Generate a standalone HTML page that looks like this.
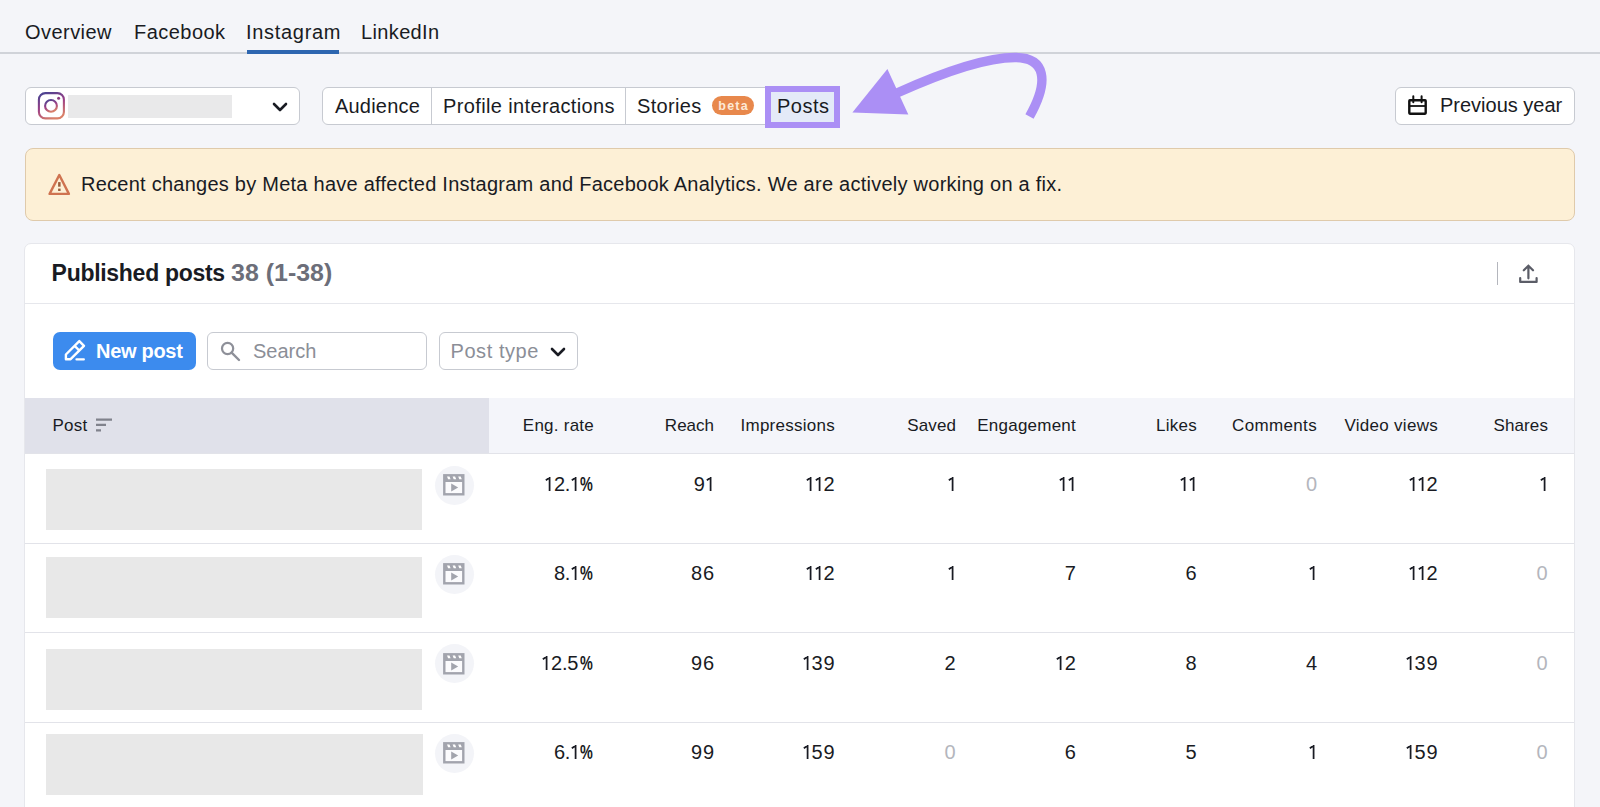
<!DOCTYPE html>
<html><head><meta charset="utf-8"><style>
*{box-sizing:border-box;margin:0;padding:0}
html,body{width:1600px;height:807px;overflow:hidden;background:#f4f5f9}
body{position:relative;font-family:"Liberation Sans",sans-serif;color:#191b23}
.a{position:absolute}
.t{position:absolute;white-space:nowrap}
.f20{font-size:20px;line-height:20px}
.f17{font-size:17px;line-height:17px}
.f19{font-size:19px;line-height:19px}
.n{position:absolute;white-space:nowrap;font-size:20px;line-height:20px;text-align:right;width:80px}
.n b{font-weight:normal}
.d{display:inline-block;width:12px;text-align:center}
.p{display:inline-block;width:4.2px;text-indent:-.6px;overflow:visible}
.pc{display:inline-block;width:15.5px;text-align:left}
.pc b{display:inline-block;transform:scaleX(.72);transform-origin:0 0;margin-left:1.5px;font-weight:bold}
.o{display:inline-block;vertical-align:baseline}
.sr{position:absolute;width:1px;height:1px;overflow:hidden;clip:rect(0 0 0 0);white-space:nowrap}
.o path{fill:none;stroke:currentColor;stroke-width:1.75}
.g{color:#b4b6bd}
.box{position:absolute;background:#fff;border:1px solid #c7cad1;border-radius:6px}
.sep{position:absolute;left:25.3px;width:1549px;height:1px;background:#e2e3e9}
.ph{position:absolute;background:#e8e8e8}
.vi{position:absolute;width:39px;height:39px;border-radius:50%;background:#f3f4f8}
</style></head><body>
<svg width="0" height="0" style="position:absolute"><defs>
<symbol id="clap" viewBox="0 0 22 22">
<rect x="1.3" y="1.3" width="19" height="19" fill="#fbfbfd" stroke="#a2a4ad" stroke-width="2.4"/>
<rect x="1" y="1" width="20" height="7" fill="#a2a4ad"/>
<path d="M4 2.6 H6.5 L7.6 5.2 H5.1 Z M9.6 2.6 H12.1 L13.2 5.2 H10.7 Z M15.2 2.6 H17.7 L18.8 5.2 H16.3 Z" fill="#fff"/>
<path d="M8.2 9.4 V17.6 L15.2 13.5 Z" fill="#a2a4ad"/>
</symbol></defs></svg>

<!-- top tabs -->
<div class="a" style="left:0;top:52px;width:1600px;height:2px;background:#d0d3d9"></div>
<div class="t f20" style="left:25px;top:22px;letter-spacing:.45px">Overview</div>
<div class="t f20" style="left:134px;top:22px;letter-spacing:.47px">Facebook</div>
<div class="t f20" style="left:246px;top:22px;letter-spacing:.7px">Instagram</div>
<div class="t f20" style="left:361px;top:22px;letter-spacing:.36px">LinkedIn</div>
<div class="a" style="left:247px;top:50px;width:92px;height:4px;background:#2d66b0"></div>

<!-- account select -->
<div class="box" style="left:25px;top:87px;width:275px;height:38px"></div>
<svg class="a" style="left:37px;top:92px" width="28" height="28" viewBox="0 0 28 28">
<defs><linearGradient id="ig" x1=".2" y1="0" x2=".6" y2="1"><stop offset="0" stop-color="#4d4391"/><stop offset=".5" stop-color="#9c3f86"/><stop offset="1" stop-color="#da8068"/></linearGradient></defs>
<rect x="1.9" y="1.1" width="25" height="25.3" rx="6.5" fill="none" stroke="url(#ig)" stroke-width="2.1"/>
<circle cx="14" cy="13.9" r="5.9" fill="none" stroke="url(#ig)" stroke-width="2.1"/>
<circle cx="21.6" cy="6.3" r="1.5" fill="#8a3a80"/>
</svg>
<div class="ph" style="left:68px;top:95px;width:164px;height:23px;background:#e9e9ea"></div>
<svg class="a" style="left:271px;top:101px" width="18" height="12" viewBox="0 0 18 12"><path d="M3 3 L9 9 L15 3" fill="none" stroke="#191b23" stroke-width="2.6" stroke-linecap="round" stroke-linejoin="round"/></svg>

<!-- segmented buttons -->
<div class="box" style="left:322px;top:87px;width:480px;height:38px"></div>
<div class="a" style="left:431px;top:88px;width:1px;height:36px;background:#c7cad1"></div>
<div class="a" style="left:625px;top:88px;width:1px;height:36px;background:#c7cad1"></div>
<div class="t f20" style="left:335px;top:96px;letter-spacing:.2px">Audience</div>
<div class="t f20" style="left:443px;top:96px;letter-spacing:.37px">Profile interactions</div>
<div class="t f20" style="left:637px;top:96px;letter-spacing:.33px">Stories</div>
<div class="a" style="left:712px;top:96px;width:42px;height:19px;border-radius:10px;background:#e8884c;color:#fde9d6;font-size:12.5px;line-height:19px;padding-top:1px;padding-left:1.2px;font-weight:bold;text-align:center;letter-spacing:1.2px">beta</div>
<div class="a" style="left:765px;top:86px;width:75px;height:42px;border:6.5px solid #ab8ff5;background:#e4eaf8"></div>
<div class="t f20" style="left:777px;top:96px;letter-spacing:.5px">Posts</div>

<!-- arrow -->
<svg class="a" style="left:0;top:0" width="1600" height="140" viewBox="0 0 1600 140">
<path d="M897 93 C 937 75, 985 57.5, 1015 57.5 C 1045 57.5, 1050 80, 1029.5 116.5" fill="none" stroke="#ab8ff5" stroke-width="9.4"/>
<path d="M852.4 112.6 L887.4 69 L908.3 114.4 Z" fill="#ab8ff5"/>
</svg>

<!-- previous year -->
<div class="box" style="left:1395px;top:87px;width:180px;height:38px"></div>
<svg class="a" style="left:1407px;top:94px" width="22" height="22" viewBox="0 0 22 22">
<rect x="2.3" y="6.3" width="16.4" height="13.4" rx=".6" fill="none" stroke="#111" stroke-width="2.4"/>
<path d="M2.1 12 H18.9" stroke="#111" stroke-width="1.8"/>
<path d="M6.3 2.3 V8.3 M14.6 2.3 V8.3" stroke="#111" stroke-width="2" stroke-linecap="round"/>
</svg>
<div class="t f20" style="left:1440px;top:95px">Previous year</div>

<!-- banner -->
<div class="a" style="left:25px;top:147.6px;width:1550px;height:73.8px;background:#fdf0d6;border:1px solid #dfcaab;border-radius:8px"></div>
<svg class="a" style="left:47px;top:172px" width="24" height="24" viewBox="0 0 24 24">
<path d="M12.3 3 L21.9 21.9 L2.6 21.9 Z" fill="none" stroke="#cf7350" stroke-width="2.4" stroke-linejoin="round"/>
<rect x="11.1" y="10.1" width="2.5" height="4.6" fill="#9a5e3c"/>
<rect x="11.1" y="16.6" width="2.5" height="2.4" fill="#9a5e3c"/>
</svg>
<div class="t f20" style="left:81px;top:174px;letter-spacing:.25px">Recent changes by Meta have affected Instagram and Facebook Analytics. We are actively working on a fix.</div>

<!-- card -->
<div class="a" style="left:24.3px;top:243.3px;width:1550.9px;height:600px;background:#fff;border:1px solid #e6e7ec;border-radius:7px"></div>
<div class="t" style="left:51.6px;top:261.6px;font-size:23px;line-height:23px;font-weight:bold;letter-spacing:-.29px">Published posts</div>
<div class="t" style="left:230.9px;top:261.6px;font-size:23px;line-height:23px;font-weight:bold;color:#6c6e79;transform:scaleX(1.085);transform-origin:0 0">38 (1-38)</div>
<div class="a" style="left:1497px;top:262px;width:1px;height:23px;background:#b4b6bd"></div>
<svg class="a" style="left:1516px;top:262px" width="24" height="24" viewBox="0 0 24 24">
<path d="M12.4 4 V16.3 M7.8 8.3 L12.4 3.7 L17 8.3" fill="none" stroke="#5b5d67" stroke-width="2.2" stroke-linecap="round"/>
<path d="M4.2 16 V19.9 H20.6 V16" fill="none" stroke="#5b5d67" stroke-width="2.2" stroke-linecap="round" stroke-linejoin="round"/>
</svg>
<div class="sep" style="top:303px;background:#e6e7ec"></div>

<!-- toolbar -->
<div class="a" style="left:53px;top:332px;width:143px;height:38px;background:#3c8bee;border-radius:7px"></div>
<svg class="a" style="left:63px;top:339px" width="24" height="24" viewBox="0 0 24 24">
<path d="M2.9 15.5 L16.3 2.1 L21 6.8 L7.6 20.2 H2.9 Z M11.6 6.8 L16.3 11.5" fill="none" stroke="#fff" stroke-width="2.4" stroke-linejoin="round"/>
<path d="M13.5 20.4 H20.8" stroke="#fff" stroke-width="2.3" stroke-linecap="round"/>
</svg>
<div class="t f20" style="left:96px;top:341px;color:#fff;font-weight:bold;letter-spacing:-.3px">New post</div>
<div class="box" style="left:207px;top:332px;width:220px;height:38px"></div>
<svg class="a" style="left:219px;top:340px" width="24" height="24" viewBox="0 0 24 24">
<circle cx="8.6" cy="8.5" r="5.6" fill="none" stroke="#8e9099" stroke-width="2.2"/>
<path d="M12.6 12.6 L20 20" stroke="#8e9099" stroke-width="2.4" stroke-linecap="round"/>
</svg>
<div class="t f20" style="left:253px;top:341px;color:#8b8e97">Search</div>
<div class="box" style="left:439px;top:332px;width:139px;height:38px"></div>
<div class="t f20" style="left:450.5px;top:341px;color:#8b8e97;letter-spacing:.57px">Post type</div>
<svg class="a" style="left:549px;top:346px" width="18" height="12" viewBox="0 0 18 12"><path d="M3 3 L9 9 L15 3" fill="none" stroke="#191b23" stroke-width="2.6" stroke-linecap="round" stroke-linejoin="round"/></svg>

<!-- table header -->
<div class="a" style="left:24.8px;top:398px;width:464.5px;height:55px;background:#e0e1ea"></div>
<div class="a" style="left:489.3px;top:398px;width:1085px;height:55px;background:#f4f5fa"></div>
<div class="sep" style="top:453px"></div>
<div class="t f17" style="left:52.5px;top:416.5px;letter-spacing:.2px">Post</div>
<svg class="a" style="left:95px;top:416.5px" width="18" height="16" viewBox="0 0 18 16">
<path d="M1 2.6 H17 M1 7.8 H11 M1 13.3 H6" stroke="#80828c" stroke-width="2.2"/>
</svg>
<div class="t f17" style="right:1006px;top:416.5px;letter-spacing:0.24px">Eng. rate</div>
<div class="t f17" style="right:886px;top:416.5px">Reach</div>
<div class="t f17" style="right:765px;top:416.5px;letter-spacing:0.26px">Impressions</div>
<div class="t f17" style="right:643.8px;top:416.5px;letter-spacing:0.17px">Saved</div>
<div class="t f17" style="right:524px;top:416.5px;letter-spacing:0.23px">Engagement</div>
<div class="t f17" style="right:403px;top:416.5px;letter-spacing:0.27px">Likes</div>
<div class="t f17" style="right:283px;top:416.5px;letter-spacing:0.34px">Comments</div>
<div class="t f17" style="right:162px;top:416.5px;letter-spacing:0.29px">Video views</div>
<div class="t f17" style="right:52px;top:416.5px;letter-spacing:0.1px">Shares</div>

<!-- rows -->
<div class="sep" style="top:543px"></div>
<div class="sep" style="top:632px"></div>
<div class="sep" style="top:722px"></div>

<div class="ph" style="left:46px;top:469px;width:376px;height:61px"></div>
<div class="ph" style="left:46px;top:557px;width:376px;height:61px"></div>
<div class="ph" style="left:46px;top:649px;width:376px;height:61px"></div>
<div class="ph" style="left:46px;top:734px;width:377px;height:61px"></div>

<!--ROWS-->
<div class="vi" style="left:434.7px;top:465.5px"></div>
<svg class="a" style="left:443.3px;top:474.0px" width="22" height="22" viewBox="0 0 22 22"><use href="#clap"/></svg>
<div class="n" style="right:1005.70px;top:473.87px"><span class="sr">1</span><svg class="o" width="9.2" height="15" viewBox="0 0 9.2 15"><path d="M1.8 4.3 L5.6 1.8 M5.6 1 V15"/></svg><b class="d">2</b><b class="p">.</b><span class="sr">1</span><svg class="o" width="9.2" height="15" viewBox="0 0 9.2 15"><path d="M1.8 4.3 L5.6 1.8 M5.6 1 V15"/></svg><b class="pc"><b>%</b></b></div>
<div class="n" style="right:885.40px;top:473.87px"><b class="d">9</b><span class="sr">1</span><svg class="o" width="9.2" height="15" viewBox="0 0 9.2 15"><path d="M1.8 4.3 L5.6 1.8 M5.6 1 V15"/></svg></div>
<div class="n" style="right:765.00px;top:473.87px"><span class="sr">1</span><svg class="o" width="9.2" height="15" viewBox="0 0 9.2 15"><path d="M1.8 4.3 L5.6 1.8 M5.6 1 V15"/></svg><span class="sr">1</span><svg class="o" width="9.2" height="15" viewBox="0 0 9.2 15"><path d="M1.8 4.3 L5.6 1.8 M5.6 1 V15"/></svg><b class="d">2</b></div>
<div class="n" style="right:644.00px;top:473.87px"><span class="sr">1</span><svg class="o" width="9.2" height="15" viewBox="0 0 9.2 15"><path d="M1.8 4.3 L5.6 1.8 M5.6 1 V15"/></svg></div>
<div class="n" style="right:523.70px;top:473.87px"><span class="sr">1</span><svg class="o" width="9.2" height="15" viewBox="0 0 9.2 15"><path d="M1.8 4.3 L5.6 1.8 M5.6 1 V15"/></svg><span class="sr">1</span><svg class="o" width="9.2" height="15" viewBox="0 0 9.2 15"><path d="M1.8 4.3 L5.6 1.8 M5.6 1 V15"/></svg></div>
<div class="n" style="right:403.00px;top:473.87px"><span class="sr">1</span><svg class="o" width="9.2" height="15" viewBox="0 0 9.2 15"><path d="M1.8 4.3 L5.6 1.8 M5.6 1 V15"/></svg><span class="sr">1</span><svg class="o" width="9.2" height="15" viewBox="0 0 9.2 15"><path d="M1.8 4.3 L5.6 1.8 M5.6 1 V15"/></svg></div>
<div class="n g" style="right:282.40px;top:473.87px"><b class="d">0</b></div>
<div class="n" style="right:161.90px;top:473.87px"><span class="sr">1</span><svg class="o" width="9.2" height="15" viewBox="0 0 9.2 15"><path d="M1.8 4.3 L5.6 1.8 M5.6 1 V15"/></svg><span class="sr">1</span><svg class="o" width="9.2" height="15" viewBox="0 0 9.2 15"><path d="M1.8 4.3 L5.6 1.8 M5.6 1 V15"/></svg><b class="d">2</b></div>
<div class="n" style="right:51.90px;top:473.87px"><span class="sr">1</span><svg class="o" width="9.2" height="15" viewBox="0 0 9.2 15"><path d="M1.8 4.3 L5.6 1.8 M5.6 1 V15"/></svg></div>
<div class="vi" style="left:434.7px;top:554.5px"></div>
<svg class="a" style="left:443.3px;top:563.0px" width="22" height="22" viewBox="0 0 22 22"><use href="#clap"/></svg>
<div class="n" style="right:1005.70px;top:562.97px"><b class="d">8</b><b class="p">.</b><span class="sr">1</span><svg class="o" width="9.2" height="15" viewBox="0 0 9.2 15"><path d="M1.8 4.3 L5.6 1.8 M5.6 1 V15"/></svg><b class="pc"><b>%</b></b></div>
<div class="n" style="right:885.40px;top:562.97px"><b class="d">8</b><b class="d">6</b></div>
<div class="n" style="right:765.00px;top:562.97px"><span class="sr">1</span><svg class="o" width="9.2" height="15" viewBox="0 0 9.2 15"><path d="M1.8 4.3 L5.6 1.8 M5.6 1 V15"/></svg><span class="sr">1</span><svg class="o" width="9.2" height="15" viewBox="0 0 9.2 15"><path d="M1.8 4.3 L5.6 1.8 M5.6 1 V15"/></svg><b class="d">2</b></div>
<div class="n" style="right:644.00px;top:562.97px"><span class="sr">1</span><svg class="o" width="9.2" height="15" viewBox="0 0 9.2 15"><path d="M1.8 4.3 L5.6 1.8 M5.6 1 V15"/></svg></div>
<div class="n" style="right:523.70px;top:562.97px"><b class="d">7</b></div>
<div class="n" style="right:403.00px;top:562.97px"><b class="d">6</b></div>
<div class="n" style="right:282.40px;top:562.97px"><span class="sr">1</span><svg class="o" width="9.2" height="15" viewBox="0 0 9.2 15"><path d="M1.8 4.3 L5.6 1.8 M5.6 1 V15"/></svg></div>
<div class="n" style="right:161.90px;top:562.97px"><span class="sr">1</span><svg class="o" width="9.2" height="15" viewBox="0 0 9.2 15"><path d="M1.8 4.3 L5.6 1.8 M5.6 1 V15"/></svg><span class="sr">1</span><svg class="o" width="9.2" height="15" viewBox="0 0 9.2 15"><path d="M1.8 4.3 L5.6 1.8 M5.6 1 V15"/></svg><b class="d">2</b></div>
<div class="n g" style="right:51.90px;top:562.97px"><b class="d">0</b></div>
<div class="vi" style="left:434.7px;top:644.3px"></div>
<svg class="a" style="left:443.3px;top:652.8px" width="22" height="22" viewBox="0 0 22 22"><use href="#clap"/></svg>
<div class="n" style="right:1005.70px;top:652.77px"><span class="sr">1</span><svg class="o" width="9.2" height="15" viewBox="0 0 9.2 15"><path d="M1.8 4.3 L5.6 1.8 M5.6 1 V15"/></svg><b class="d">2</b><b class="p">.</b><b class="d">5</b><b class="pc"><b>%</b></b></div>
<div class="n" style="right:885.40px;top:652.77px"><b class="d">9</b><b class="d">6</b></div>
<div class="n" style="right:765.00px;top:652.77px"><span class="sr">1</span><svg class="o" width="9.2" height="15" viewBox="0 0 9.2 15"><path d="M1.8 4.3 L5.6 1.8 M5.6 1 V15"/></svg><b class="d">3</b><b class="d">9</b></div>
<div class="n" style="right:644.00px;top:652.77px"><b class="d">2</b></div>
<div class="n" style="right:523.70px;top:652.77px"><span class="sr">1</span><svg class="o" width="9.2" height="15" viewBox="0 0 9.2 15"><path d="M1.8 4.3 L5.6 1.8 M5.6 1 V15"/></svg><b class="d">2</b></div>
<div class="n" style="right:403.00px;top:652.77px"><b class="d">8</b></div>
<div class="n" style="right:282.40px;top:652.77px"><b class="d">4</b></div>
<div class="n" style="right:161.90px;top:652.77px"><span class="sr">1</span><svg class="o" width="9.2" height="15" viewBox="0 0 9.2 15"><path d="M1.8 4.3 L5.6 1.8 M5.6 1 V15"/></svg><b class="d">3</b><b class="d">9</b></div>
<div class="n g" style="right:51.90px;top:652.77px"><b class="d">0</b></div>
<div class="vi" style="left:434.7px;top:733.5px"></div>
<svg class="a" style="left:443.3px;top:742.0px" width="22" height="22" viewBox="0 0 22 22"><use href="#clap"/></svg>
<div class="n" style="right:1005.70px;top:741.97px"><b class="d">6</b><b class="p">.</b><span class="sr">1</span><svg class="o" width="9.2" height="15" viewBox="0 0 9.2 15"><path d="M1.8 4.3 L5.6 1.8 M5.6 1 V15"/></svg><b class="pc"><b>%</b></b></div>
<div class="n" style="right:885.40px;top:741.97px"><b class="d">9</b><b class="d">9</b></div>
<div class="n" style="right:765.00px;top:741.97px"><span class="sr">1</span><svg class="o" width="9.2" height="15" viewBox="0 0 9.2 15"><path d="M1.8 4.3 L5.6 1.8 M5.6 1 V15"/></svg><b class="d">5</b><b class="d">9</b></div>
<div class="n g" style="right:644.00px;top:741.97px"><b class="d">0</b></div>
<div class="n" style="right:523.70px;top:741.97px"><b class="d">6</b></div>
<div class="n" style="right:403.00px;top:741.97px"><b class="d">5</b></div>
<div class="n" style="right:282.40px;top:741.97px"><span class="sr">1</span><svg class="o" width="9.2" height="15" viewBox="0 0 9.2 15"><path d="M1.8 4.3 L5.6 1.8 M5.6 1 V15"/></svg></div>
<div class="n" style="right:161.90px;top:741.97px"><span class="sr">1</span><svg class="o" width="9.2" height="15" viewBox="0 0 9.2 15"><path d="M1.8 4.3 L5.6 1.8 M5.6 1 V15"/></svg><b class="d">5</b><b class="d">9</b></div>
<div class="n g" style="right:51.90px;top:741.97px"><b class="d">0</b></div>
<!--/ROWS-->
</body></html>
